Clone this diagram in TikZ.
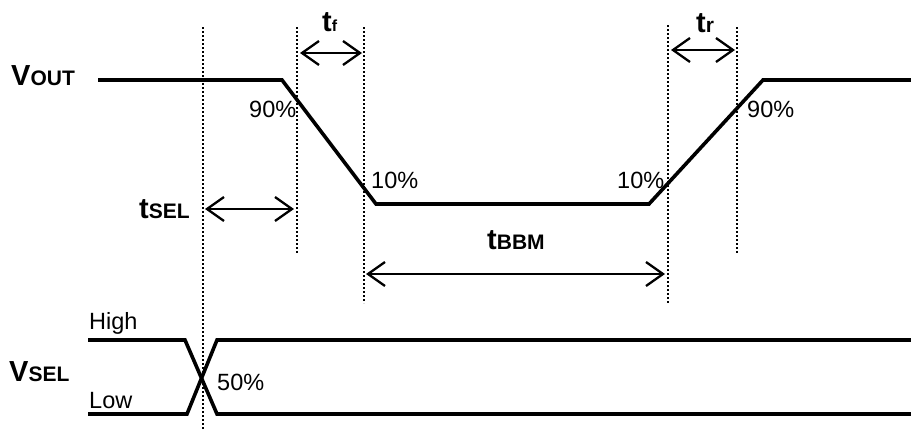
\documentclass[tikz,border=0pt]{standalone}
\usepackage{fontspec}
\setmainfont{Liberation Sans}
\usetikzlibrary{arrows.meta}
\newcommand{\bigsym}[2]{{\bfseries\fontsize{29}{29}\selectfont #1\fontsize{21}{21}\selectfont #2}}
\newcommand{\normtxt}{\fontsize{23.5}{23.5}\selectfont}
\tikzset{
  signal/.style={line width=3.6pt, line join=miter},
  guide/.style={line width=2.5pt, dash pattern=on 2.2pt off 1.8pt},
  dimarrow/.style={line width=2.3pt, {Straight Barb[length=17pt,width=24pt]}-{Straight Barb[length=17pt,width=24pt]}},
  lbl/.style={inner sep=0pt, anchor=base west},
}
\begin{document}
\begin{tikzpicture}[x=1pt,y=-1pt]
\useasboundingbox (0,0) rectangle (911,431);
% signal VOUT
\coordinate (o0) at (98,80);
\coordinate (o1) at (282,80);
\coordinate (o2) at (376,204);
\coordinate (o3) at (649,204);
\coordinate (o4) at (763,80);
\coordinate (o5) at (911,80);
\draw[signal] (o0) -- (o1) -- (o2) -- (o3) -- (o4) -- (o5);
% signal VSEL
\coordinate (h0) at (88,340);
\coordinate (h1) at (185,340);
\coordinate (h2) at (217,414);
\coordinate (h3) at (911,414);
\coordinate (l0) at (88,414);
\coordinate (l1) at (187,414);
\coordinate (l2) at (217,340);
\coordinate (l3) at (911,340);
\draw[signal] (h0) -- (h1) -- (h2) -- (h3);
\draw[signal] (l0) -- (l1) -- (l2) -- (l3);
% guides
\coordinate (g1t) at (203,27);  \coordinate (g1b) at (203,431);
\coordinate (g2t) at (297,27);  \coordinate (g2b) at (297,253);
\coordinate (g3t) at (364,27);  \coordinate (g3b) at (364,303);
\coordinate (g4t) at (668,25);  \coordinate (g4b) at (668,303);
\coordinate (g5t) at (737,27);  \coordinate (g5b) at (737,253);
\foreach \g in {1,...,5} {\draw[guide] (g\g t) -- (g\g b);}
% dimension arrows
\coordinate (af1) at (300,53);  \coordinate (af2) at (362,53);
\coordinate (ar1) at (671,50);  \coordinate (ar2) at (735,50);
\coordinate (as1) at (205,209); \coordinate (as2) at (294,209);
\coordinate (ab1) at (366,274); \coordinate (ab2) at (665,274);
\draw[dimarrow] (af1) -- (af2);
\draw[dimarrow] (ar1) -- (ar2);
\draw[dimarrow] (as1) -- (as2);
\draw[dimarrow] (ab1) -- (ab2);
% labels
\node[lbl] (vout) at (11,85) {\bigsym{V}{OUT}};
\node[lbl] (vsel) at (9,381) {\bigsym{V}{SEL}};
\node[lbl] (tsel) at (139,218) {\bigsym{t}{SEL}};
\node[lbl] (tbbm) at (487,249) {\bigsym{t}{BBM}};
\node[lbl] (tf) at (322,31) {{\bfseries\fontsize{29}{29}\selectfont t\fontsize{16}{16}\selectfont f}};
\node[lbl] (tr) at (696,32) {\bigsym{t}{r}};
\node[lbl] (p90a) at (249,117) {\normtxt 90\%};
\node[lbl] (p90b) at (747,117) {\normtxt 90\%};
\node[lbl] (p10a) at (371,188) {\normtxt 10\%};
\node[lbl] (p10b) at (617,188) {\normtxt 10\%};
\node[lbl] (p50) at (217,390) {\normtxt 50\%};
\node[lbl] (high) at (89,329) {\normtxt High};
\node[lbl] (low) at (89,408) {\normtxt Low};
\end{tikzpicture}
\end{document}
